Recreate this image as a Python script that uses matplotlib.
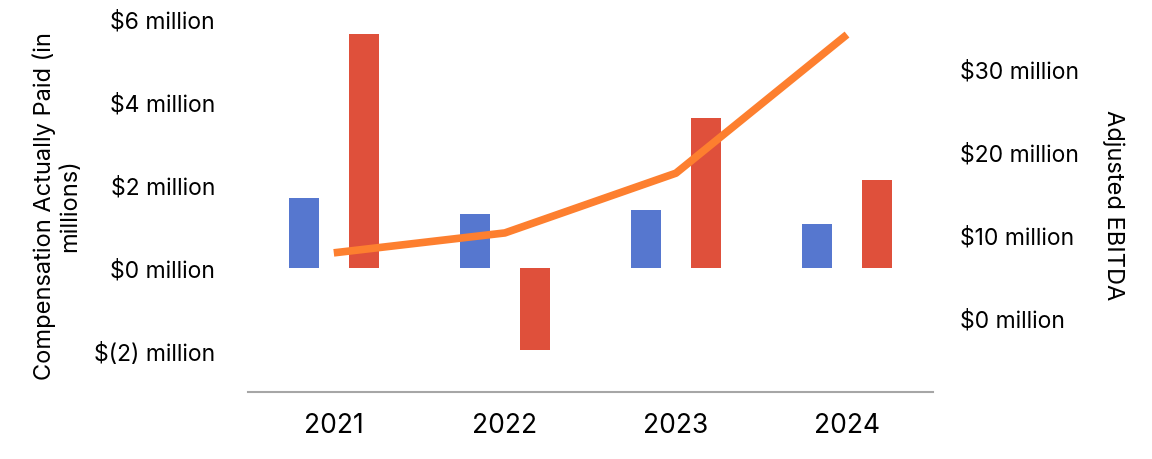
import numpy as np
import matplotlib
matplotlib.use("Agg")
from matplotlib import pyplot as plt

plt.rcParams['font.family'] = ['Inter', 'DejaVu Sans']

years = ["2021", "2022", "2023", "2024"]
# left axis, $ millions
cap_blue = [1.68, 1.29, 1.39, 1.05]
cap_red = [5.64, -1.98, 3.61, 2.11]
# right axis, $ millions
ebitda = [7.8, 10.2, 17.4, 34.1]

left_ticks = [-2, 0, 2, 4, 6]
right_ticks = [0, 10, 20, 30]

def money(v):
    if v < 0:
        return "$(%d) million" % abs(v)
    return "$%d million" % v

fig = plt.figure(figsize=(11.52, 4.6), dpi=100)
ax = fig.add_axes([0.2155, 0.145, 0.594, 0.812])
ax2 = ax.twinx()

x = np.arange(len(years))
w = 0.175
ax.bar(x - w, cap_blue, w, color="#5677CF", zorder=2)
ax.bar(x + w, cap_red, w, color="#DF503B", zorder=2)
ax2.plot(x, ebitda, color="#FD7F2F", lw=5.5, solid_capstyle="butt", zorder=3)

ax.set_xlim(-0.5, 3.5)
ax.set_ylim(-3, 6)
ax2.set_ylim(-9, 36)

ax.set_xticks(x)
ax.set_xticklabels(years, fontsize=19)
ax.set_yticks(left_ticks)
ax.set_yticklabels([money(v) for v in left_ticks], fontsize=16.5)
ax2.set_yticks(right_ticks)
ax2.set_yticklabels([money(v) for v in right_ticks], fontsize=16.5)

ax.tick_params(axis="x", length=0, pad=14)
ax.tick_params(axis="y", length=0, pad=24)
ax2.tick_params(axis="y", length=0, pad=20)

for a in (ax, ax2):
    for s in ("top", "left", "right", "bottom"):
        a.spines[s].set_visible(False)
ax.spines["bottom"].set_visible(True)
ax.spines["bottom"].set_color("#A6A6A6")
ax.spines["bottom"].set_linewidth(1.5)

fig.text(0.0495, 0.552, "Compensation Actually Paid (in\nmillions)", rotation=90,
         ha="center", va="center", fontsize=17, linespacing=1.15)
fig.text(0.966, 0.555, "Adjusted EBITDA", rotation=270, ha="center", va="center",
         fontsize=17)

fig.savefig("out.png", dpi=100)
